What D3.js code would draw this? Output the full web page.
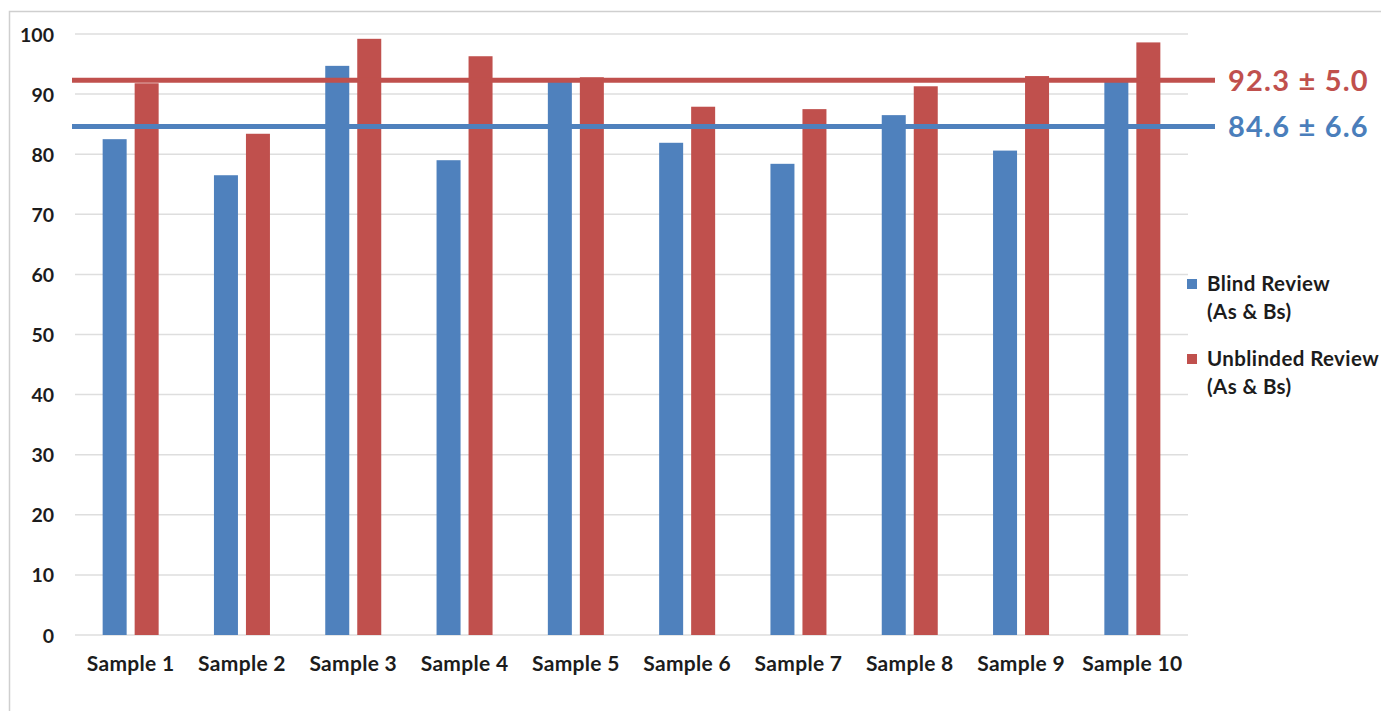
<!DOCTYPE html>
<html>
<head>
<meta charset="utf-8">
<script src="https://cdn.jsdelivr.net/npm/d3@7"></script>
<style>
  html, body { margin: 0; padding: 0; background: #ffffff; }
  svg { display: block; }
  text { font-family: Lato, "Open Sans", sans-serif; font-weight: 700; fill: #1c1c1c; }
</style>
</head>
<body>
<svg id="chart" width="1381" height="711"></svg>
<script>
// Review scores per sample
const samples = ["Sample 1", "Sample 2", "Sample 3", "Sample 4", "Sample 5",
                 "Sample 6", "Sample 7", "Sample 8", "Sample 9", "Sample 10"];
const seriesNames = ["Blind Review", "Unblinded Review"];
const legendLines = [["Blind Review", "(As & Bs)"], ["Unblinded Review", "(As & Bs)"]];
const blindScores = [82.5, 76.5, 94.7, 79.0, 92.3, 81.9, 78.4, 86.5, 80.6, 92.2];
const unblindedScores = [91.8, 83.4, 99.2, 96.3, 92.8, 87.9, 87.5, 91.3, 93.0, 98.6];
// Mean ± SD reference lines
const meanValues = [84.6, 92.3];
const sdValues = [6.6, 5.0];
const yTicks = [0, 10, 20, 30, 40, 50, 60, 70, 80, 90, 100];

const colors = { "Blind Review": "#4f81bd", "Unblinded Review": "#c0504d" };
const textColors = { "Blind Review": "#4a7ebb", "Unblinded Review": "#c0504d" };

const svg = d3.select("#chart");

// Outer chart frame
svg.append("path")
  .attr("d", "M9.5,712 L9.5,11.5 L1385,11.5")
  .attr("fill", "none")
  .attr("stroke", "#cfcfcf")
  .attr("stroke-width", 1.5);

const plotLeft = 75, plotRight = 1188, plotTop = 34, plotBottom = 635;

const y = d3.scaleLinear().domain([0, 100]).range([plotBottom, plotTop]);
const x = d3.scaleBand().domain(samples).range([plotLeft, plotRight]).paddingInner(0).paddingOuter(0);
const x1 = d3.scaleBand().domain(seriesNames).range([0, x.bandwidth()]).paddingInner(0.25).paddingOuter(0.864);

// Gridlines
svg.append("g")
  .selectAll("line")
  .data(yTicks)
  .join("line")
  .attr("x1", plotLeft)
  .attr("x2", plotRight)
  .attr("y1", d => y(d))
  .attr("y2", d => y(d))
  .attr("stroke", "#dedede")
  .attr("stroke-width", 1.5);

// Y axis labels
const yAxis = d3.axisLeft(y).tickValues(yTicks).tickSize(0).tickPadding(0);
const yg = svg.append("g").attr("transform", "translate(54,0)").call(yAxis);
yg.select(".domain").remove();
yg.selectAll("text")
  .attr("font-family", "Lato, sans-serif")
  .attr("font-weight", 700)
  .attr("font-size", 19.5)
  .attr("fill", "#1c1c1c")
  .attr("dy", "0.36em");

// X axis labels
const xAxis = d3.axisBottom(x).tickSize(0).tickPadding(0);
const xg = svg.append("g").attr("transform", "translate(0,656)").call(xAxis);
xg.select(".domain").remove();
xg.selectAll("text")
  .attr("font-family", "Lato, sans-serif")
  .attr("font-weight", 700)
  .attr("font-size", 21)
  .attr("letter-spacing", 0.3)
  .attr("fill", "#1c1c1c")
  .attr("dy", "0.72em");

// Bars
const rows = samples.map((s, i) => ({ sample: s, values: [
  { series: "Blind Review", value: blindScores[i] },
  { series: "Unblinded Review", value: unblindedScores[i] }
]}));

svg.append("g")
  .selectAll("g")
  .data(rows)
  .join("g")
  .attr("transform", d => `translate(${x(d.sample)},0)`)
  .selectAll("rect")
  .data(d => d.values)
  .join("rect")
  .attr("x", d => x1(d.series))
  .attr("width", x1.bandwidth())
  .attr("y", d => y(d.value))
  .attr("height", d => y(0) - y(d.value))
  .attr("fill", d => colors[d.series]);

// Mean lines with labels
const means = seriesNames.map((s, i) => ({ series: s, mean: meanValues[i], sd: sdValues[i] }));
const mg = svg.append("g");
mg.selectAll("line")
  .data(means)
  .join("line")
  .attr("x1", 72)
  .attr("x2", 1215)
  .attr("y1", d => y(d.mean))
  .attr("y2", d => y(d.mean))
  .attr("stroke", d => colors[d.series])
  .attr("stroke-width", 5);
mg.selectAll("text")
  .data(means)
  .join("text")
  .attr("x", 1228)
  .attr("y", d => y(d.mean))
  .attr("dy", "0.36em")
  .attr("font-size", 29)
  .attr("letter-spacing", 1.2)
  .style("fill", d => textColors[d.series])
  .text(d => `${d.mean.toFixed(1)} ± ${d.sd.toFixed(1)}`);

// Legend
const legend = svg.append("g").attr("transform", "translate(1187,0)");
const legendY = [284, 359];
seriesNames.forEach((s, i) => {
  const g = legend.append("g").attr("transform", `translate(0,${legendY[i]})`);
  g.append("rect")
    .attr("x", 0).attr("y", -5).attr("width", 10).attr("height", 10)
    .attr("fill", colors[s]);
  g.selectAll("text")
    .data(legendLines[i])
    .join("text")
    .attr("x", 20)
    .attr("y", (d, k) => k * 28)
    .attr("dy", "0.36em")
    .attr("font-size", 20.5)
    .attr("letter-spacing", 0.4)
    .text(d => d);
});
</script>
</body>
</html>
